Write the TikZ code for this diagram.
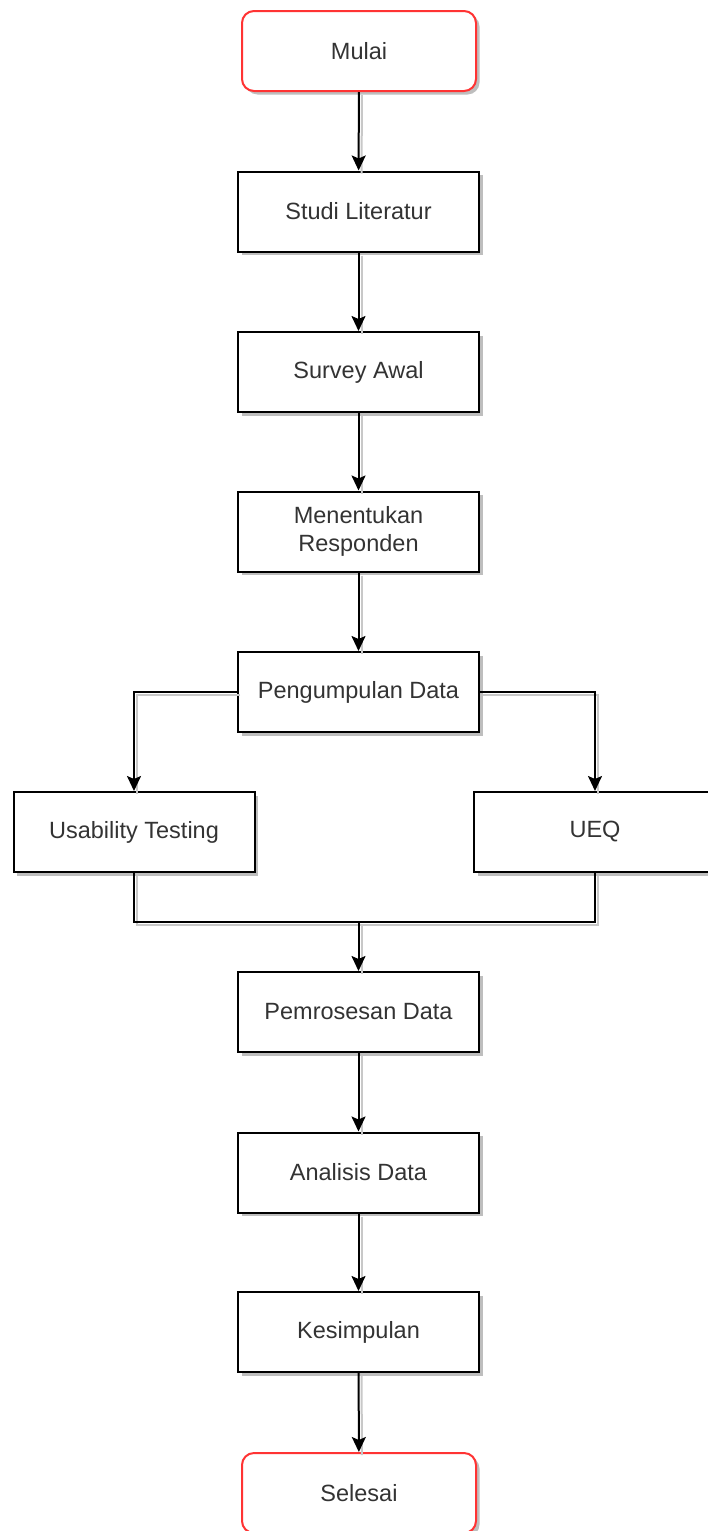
\documentclass[tikz,border=0pt]{standalone}
\usepackage{fontspec}
\setmainfont{Liberation Sans}
\usetikzlibrary{arrows.meta,shadows}
\definecolor{termred}{RGB}{255,51,51}
\definecolor{txt}{RGB}{51,51,51}
\definecolor{shad}{RGB}{190,190,190}
\definecolor{lshad}{RGB}{200,200,200}
\begin{document}
\begin{tikzpicture}[x=1pt,y=-1pt,
  base/.style={draw=black, line width=2pt, fill=white, inner sep=0pt,
    text=txt, font=\fontsize{23.5}{28}\selectfont, align=center,
    drop shadow={shadow xshift=3.5pt, shadow yshift=-3.5pt, fill=shad, opacity=1}},
  procbox/.style={base, rectangle, minimum width=241pt, minimum height=80pt},
  termbox/.style={base, draw=termred, rounded corners=12pt, minimum width=234pt, minimum height=80pt},
  conn/.style={line width=2pt, draw=black,
    preaction={draw=lshad, line width=2pt, arrows=-, transform canvas={shift={(3pt,-3pt)}}}},
  arr/.style={conn, -{Stealth[length=15pt,width=14pt,inset=3pt]}}
]
\useasboundingbox (0,0) rectangle (708,1531);
\fill[white] (0,0) rectangle (708,1531);

\node[termbox] (mulai) at (359,51) {Mulai};
\node[procbox] (studi) at (358.5,211.5) {Studi Literatur};
\node[procbox] (survey) at (358.5,372) {Survey Awal};
\node[procbox] (resp) at (358.5,531.5) {Menentukan\\Responden};
\node[procbox] (peng) at (358.5,692) {Pengumpulan Data};
\node[procbox] (usab) at (134,832) {Usability Testing};
\node[procbox, minimum width=242pt] (ueq) at (595,832) {UEQ};
\node[procbox] (proc) at (358.5,1012) {Pemrosesan Data};
\node[procbox] (anal) at (358.5,1172.5) {Analisis Data};
\node[procbox] (kesi) at (358.5,1332) {Kesimpulan};
\node[termbox] (selesai) at (359,1493) {Selesai};

\coordinate (j) at (358.5,922);

\draw[arr] (mulai) -- (studi);
\draw[arr] (studi) -- (survey);
\draw[arr] (survey) -- (resp);
\draw[arr] (resp) -- (peng);
\draw[arr] (peng.west) -| (usab.north);
\draw[arr] (peng.east) -| (ueq.north);
\draw[conn] (usab.south) |- (j) -| (ueq.south);
\draw[arr] (j) -- (proc);
\draw[arr] (proc) -- (anal);
\draw[arr] (anal) -- (kesi);
\draw[arr] (kesi) -- (selesai);
\end{tikzpicture}
\end{document}
